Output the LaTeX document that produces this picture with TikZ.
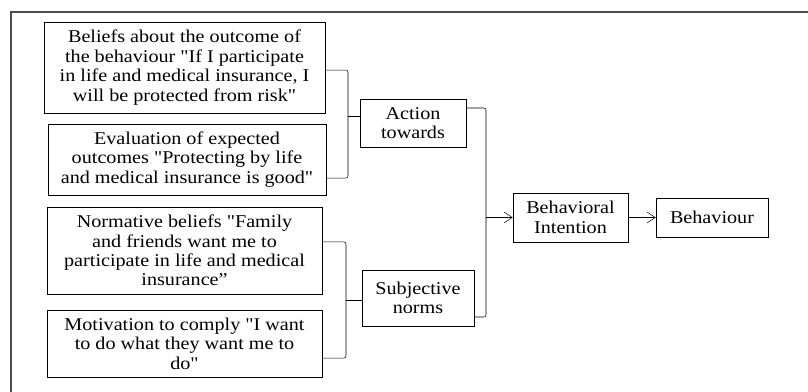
\documentclass[tikz,border=0pt]{standalone}
\usepackage{fontspec}
\setmainfont{Liberation Serif}[FakeStretch=1.12, Ligatures=TeXOff]
\usetikzlibrary{arrows.meta, positioning, calc}
\tikzset{
  factor/.style={draw, rectangle, align=center, inner sep=1pt, font=\fontsize{13.5}{14.6}\selectfont},
  link/.style={rounded corners=1.5pt},
  push/.style={-{Straight Barb[length=6pt,width=8pt]}}
}
\begin{document}
\begin{tikzpicture}[x=0.75pt, y=-0.75pt]
      \useasboundingbox (0,0) rectangle (808,392);
      \draw[line width=1.1pt, black!70] (11,392) -- (11,12) -- (808,12);

      \node[factor, minimum width=210.75pt, minimum height=68.25pt]
        (B1) at (184.5,67.5) {Beliefs about the outcome of\\the behaviour "If I participate\\in life and medical insurance, I\\will be protected from risk"};
      \node[factor, minimum width=208.5pt, minimum height=53.25pt]
        (B2) at (187,159.5) {Evaluation of expected\\outcomes "Protecting by life\\and medical insurance is good"};
      \node[factor, minimum width=206.25pt, minimum height=65.25pt]
        (N1) at (184.5,250.5) {Normative beliefs "Family\\and friends want me to\\participate in life and medical\\insurance”};
      \node[factor, minimum width=206.25pt, minimum height=50.25pt]
        (N2) at (184.5,343.5) {Motivation to comply "I want\\to do what they want me to\\do"};

      \node[factor, minimum width=79.5pt, minimum height=36pt]
        (A) at (413,123) {Action\\towards};
      \node[factor, minimum width=84pt, minimum height=42pt]
        (S) at (418,298) {Subjective\\norms};
      \node[factor, minimum width=86.25pt, minimum height=36.75pt]
        (BI) at (570.5,217.5) {Behavioral\\Intention};
      \node[factor, minimum width=84pt, minimum height=29.25pt]
        (BH) at (712,217.5) {Behaviour};

      % junctions of the brackets
      \coordinate (jA) at (348,116);
      \coordinate (jS) at (346,300);
      \coordinate (jI) at (486,217.5);

      \draw[link] ([yshift=-1.9pt]B1.east) -| (jA) |- ([yshift=-13.9pt]B2.east);
      \draw (jA) -- (jA -| A.west);
      \draw[link] ([yshift=6.4pt]N1.east) -| (jS) |- ([yshift=-10.9pt]N2.east);
      \draw (jS) -- (jS -| S.west);
      \draw[link] ([yshift=11.25pt]A.east) -| (jI) |- ([yshift=-14.25pt]S.east);
      \draw[push] (jI) -- (BI.west);
      \draw[push] (BI) -- (BH);
    \end{tikzpicture}
\end{document}
